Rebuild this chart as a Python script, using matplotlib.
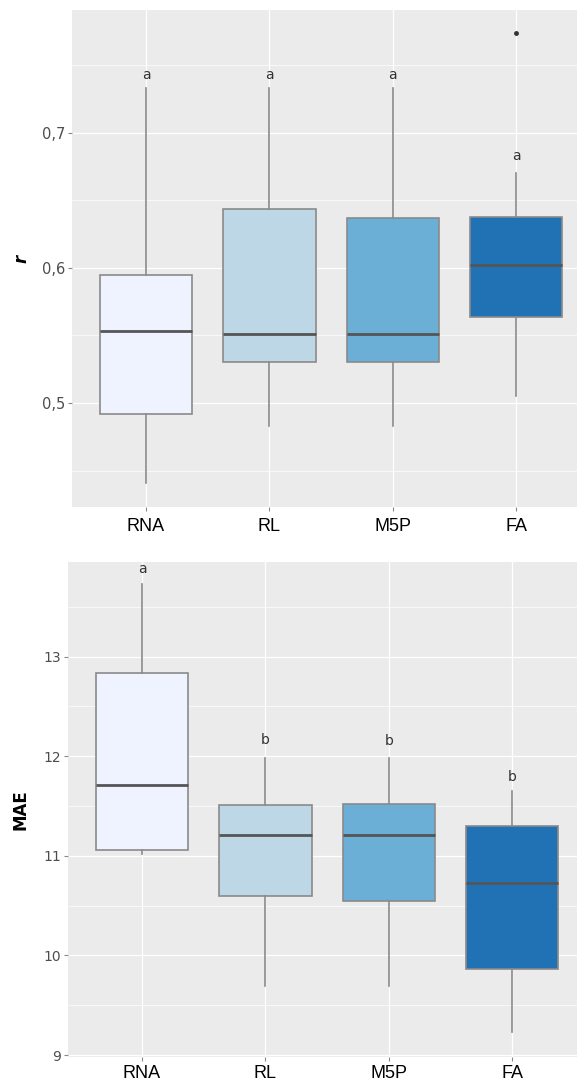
import matplotlib.pyplot as plt
from matplotlib.ticker import FixedLocator

# Prepare data
models = ["RNA", "RL", "M5P", "FA"]
colors = ["#EFF3FF", "#BDD7E7", "#6BAED6", "#2171B5"]

r_whislo = [0.441, 0.483, 0.483, 0.505]
r_q1 = [0.492, 0.530, 0.530, 0.564]
r_med = [0.553, 0.551, 0.551, 0.602]
r_q3 = [0.595, 0.644, 0.637, 0.638]
r_whishi = [0.733, 0.733, 0.733, 0.670]
r_fliers = [[], [], [], [0.774]]
r_letters = ["a", "a", "a", "a"]
r_letter_y = [0.743, 0.743, 0.743, 0.683]

mae_whislo = [11.02, 9.69, 9.69, 9.23]
mae_q1 = [11.06, 10.60, 10.55, 9.86]
mae_med = [11.71, 11.21, 11.21, 10.73]
mae_q3 = [12.84, 11.51, 11.52, 11.30]
mae_whishi = [13.73, 11.98, 11.98, 11.65]
mae_fliers = [[], [], [], []]
mae_letters = ["a", "b", "b", "b"]
mae_letter_y = [13.88, 12.16, 12.15, 11.79]


def make_stats(lo, q1, med, q3, hi, fl):
    stats = []
    for i in range(len(lo)):
        stats.append({"whislo": lo[i], "q1": q1[i], "med": med[i], "q3": q3[i],
                      "whishi": hi[i], "fliers": fl[i]})
    return stats


def draw_panel(ax, stats, letters, letter_y, ylim, major, minor, ticklabels, ylabel,
               label_style, tick_size, xpad):
    ax.set_facecolor("#EBEBEB")
    ax.set_axisbelow(True)
    for s in ax.spines.values():
        s.set_visible(False)
    pos = list(range(1, len(models) + 1))
    bp = ax.bxp(stats, positions=pos, widths=0.75, patch_artist=True, showcaps=False,
                boxprops=dict(edgecolor="#8a8a8a", linewidth=1.2),
                whiskerprops=dict(color="#8a8a8a", linewidth=1.2),
                medianprops=dict(color="#555555", linewidth=2),
                flierprops=dict(marker="o", markersize=2.5, markerfacecolor="#333333",
                                markeredgecolor="#333333"))
    for patch, c in zip(bp["boxes"], colors):
        patch.set_facecolor(c)
    for x, t, y in zip(pos, letters, letter_y):
        ax.text(x, y, t, ha="center", va="center", fontsize=10, color="#333333")
    ax.set_xlim(0.4, 4.6)
    ax.set_ylim(*ylim)
    ax.yaxis.set_major_locator(FixedLocator(major))
    ax.yaxis.set_minor_locator(FixedLocator(minor))
    ax.set_yticklabels(ticklabels)
    ax.set_xticks(pos)
    ax.set_xticklabels(models, fontsize=13, family="Liberation Sans", color="black")
    ax.tick_params(axis="y", which="major", labelsize=tick_size, labelcolor="#4d4d4d",
                   color="#888888", length=3, pad=2)
    ax.tick_params(axis="y", which="minor", length=0)
    ax.tick_params(axis="x", color="#888888", length=3, pad=xpad)
    ax.grid(True, which="major", color="white", linewidth=0.9)
    ax.grid(True, which="minor", axis="y", color="white", linewidth=0.5)
    ax.set_ylabel(ylabel, **label_style)


fig = plt.figure(figsize=(5.77, 10.84), dpi=100)

ax1 = fig.add_axes([0.1248, 0.5323, 0.898, 0.4585])
draw_panel(ax1, make_stats(r_whislo, r_q1, r_med, r_q3, r_whishi, r_fliers),
           r_letters, r_letter_y, (0.423, 0.791),
           [0.5, 0.6, 0.7], [0.45, 0.55, 0.65, 0.75], ["0,5", "0,6", "0,7"],
           "r", dict(fontsize=12, fontweight="bold", fontstyle="italic", labelpad=8),
           10.5, 5)

ax2 = fig.add_axes([0.1179, 0.0249, 0.898, 0.4566])
draw_panel(ax2, make_stats(mae_whislo, mae_q1, mae_med, mae_q3, mae_whishi, mae_fliers),
           mae_letters, mae_letter_y, (8.98, 13.95),
           [9, 10, 11, 12, 13], [9.5, 10.5, 11.5, 12.5, 13.5],
           ["9", "10", "11", "12", "13"],
           "MAE", dict(fontsize=12, fontweight="bold", labelpad=10), 10, 3)

plt.savefig("out.png")
